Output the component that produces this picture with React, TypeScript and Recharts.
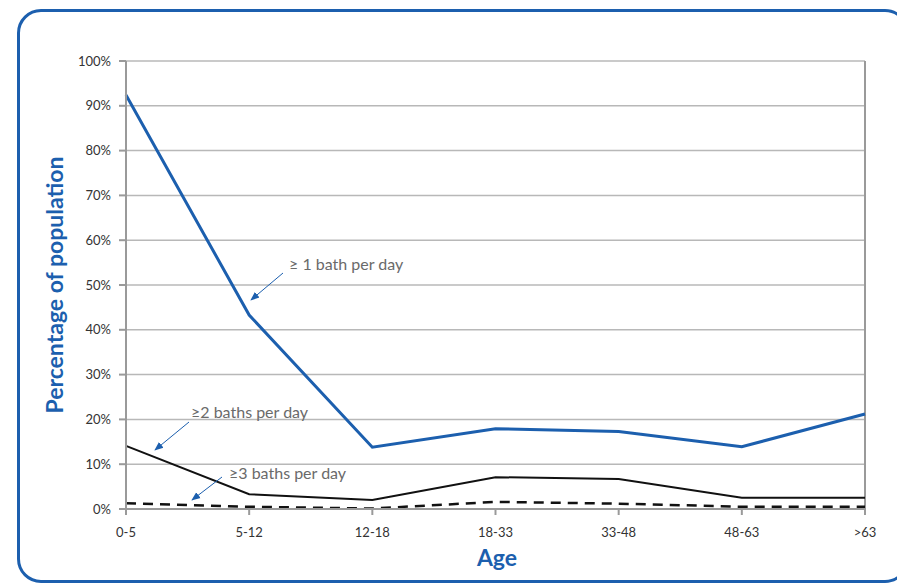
import { LineChart, Line, XAxis, YAxis, CartesianGrid, ReferenceLine } from 'recharts';

const ageGroups = ['0-5', '5-12', '12-18', '18-33', '33-48', '48-63', '>63'];
const oneBath = [92.4, 43.3, 13.8, 17.9, 17.3, 13.9, 21.2];
const twoBaths = [14.1, 3.3, 2.0, 7.1, 6.7, 2.5, 2.5];
const threeBaths = [1.3, 0.5, 0.1, 1.6, 1.2, 0.5, 0.5];
const yTicks = [0, 10, 20, 30, 40, 50, 60, 70, 80, 90, 100];

const data = ageGroups.map((age, i) => ({
    age,
    one: oneBath[i],
    two: twoBaths[i],
    three: threeBaths[i],
}));

const BLUE = '#1c5fae';
const GRID = '#b8b8b8';
const AXIS = '#9a9a9a';
const FONT = 'Lato, "Open Sans", sans-serif';

export default function App() {
    return (
        <div style={{ position: 'absolute', left: 0, top: 0, width: 897, height: 585, background: '#fff', overflow: 'hidden', fontFamily: FONT }}>
            <div
                style={{
                    position: 'absolute',
                    left: 17,
                    top: 9,
                    width: 892,
                    height: 574,
                    border: `3px solid ${BLUE}`,
                    borderRadius: 24,
                    boxSizing: 'border-box',
                }}
            />
            <LineChart
                width={897}
                height={585}
                data={data}
                margin={{ top: 61, right: 32, bottom: 46, left: 66 }}
                style={{ position: 'absolute', left: 0, top: 0 }}
            >
                <CartesianGrid vertical={false} stroke={GRID} strokeWidth={1.5} />
                <XAxis
                    dataKey="age"
                    height={30}
                    stroke={AXIS}
                    strokeWidth={2}
                    tickSize={6}
                    tick={{ fill: '#333', fontSize: 13, fontFamily: FONT }}
                    tickMargin={13}
                />
                <YAxis
                    width={60}
                    domain={[0, 100]}
                    ticks={yTicks}
                    tickFormatter={(v: number) => `${v}%`}
                    stroke={AXIS}
                    strokeWidth={2}
                    tickSize={7}
                    tickMargin={8}
                    tick={{ fill: '#333', fontSize: 13, fontFamily: FONT }}
                    label={{
                        value: 'Percentage of population',
                        angle: -90,
                        position: 'insideLeft',
                        dx: -16,
                        dy: 0,
                        style: { textAnchor: 'middle', fill: BLUE, fontSize: 23, fontWeight: 700, fontFamily: FONT },
                    }}
                />
                <ReferenceLine x=">63" stroke={AXIS} strokeWidth={2} />
                <Line dataKey="one" stroke={BLUE} strokeWidth={3} dot={false} isAnimationActive={false} />
                <Line dataKey="two" stroke="#111" strokeWidth={2} dot={false} isAnimationActive={false} />
                <Line dataKey="three" stroke="#111" strokeWidth={2.5} strokeDasharray="10 7" dot={false} isAnimationActive={false} />
            </LineChart>
            <svg width={897} height={585} style={{ position: 'absolute', left: 0, top: 0, pointerEvents: 'none' }}>
                <defs>
                    <marker id="arr" viewBox="0 0 10 10" refX="9" refY="5" markerWidth="9" markerHeight="9" orient="auto-start-reverse">
                        <path d="M0,1 L10,5 L0,9 z" fill={BLUE} />
                    </marker>
                </defs>
                <g fontFamily={FONT} fontSize={16} fill="#6a6a6a">
                    <text x={289} y={270}>≥ 1 bath per day</text>
                    <text x={191} y={418}>≥2 baths per day</text>
                    <text x={229} y={479}>≥3 baths per day</text>
                </g>
                <g stroke={BLUE} strokeWidth={1} fill="none">
                    <line x1={283} y1={273} x2={251} y2={300} markerEnd="url(#arr)" />
                    <line x1={189} y1={422} x2={155} y2={450} markerEnd="url(#arr)" />
                    <line x1={222} y1={477} x2={192} y2={500} markerEnd="url(#arr)" />
                </g>
                <text x={497} y={566} textAnchor="middle" fontFamily={FONT} fontSize={23} fontWeight={700} fill={BLUE}>
                    Age
                </text>
            </svg>
        </div>
    );
}
